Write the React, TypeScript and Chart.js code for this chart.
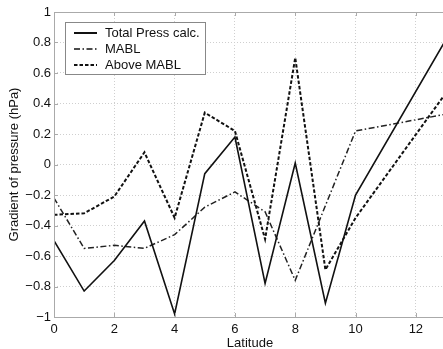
import React, { useEffect, useRef } from "react";
import { Chart, registerables } from "chart.js";

Chart.register(...registerables);

const LAT = [0, 1, 2, 3, 4, 5, 6, 7, 8, 9, 10, 13];
const TOTAL = [-0.5, -0.83, -0.63, -0.37, -0.98, -0.06, 0.18, -0.78, 0.01, -0.91, -0.2, 0.82];
const MABL = [-0.22, -0.55, -0.53, -0.55, -0.46, -0.28, -0.18, -0.31, -0.76, null, 0.22, 0.33];
const ABOVE = [-0.33, -0.32, -0.21, 0.08, -0.35, 0.34, 0.22, -0.49, 0.7, -0.69, -0.35, 0.47];
const X_TICKS = [0, 2, 4, 6, 8, 10, 12];
const Y_TICKS = [-1, -0.8, -0.6, -0.4, -0.2, 0, 0.2, 0.4, 0.6, 0.8, 1];
const LEGEND = ["Total Press calc.", "MABL", "Above MABL"];
const X_TITLE = "Latitude";
const Y_TITLE = "Gradient of pressure (hPa)";

const FONT = "'Liberation Sans', Arial, Helvetica, sans-serif";
const DASH_MABL = [6, 2.5, 1.5, 2.5];
const DASH_ABOVE = [3.5, 2];

const fmt = (v: number) => {
  const r = Math.round(v * 10) / 10;
  const s = String(Math.abs(r));
  return r < 0 ? "\u2212" + s : s;
};

const toPts = (ys: (number | null)[]) => LAT.map((x, i) => ({ x, y: ys[i] }));

const framePlugin = {
  id: "frame",
  afterDatasetsDraw(chart: any) {
    const { ctx, chartArea: a, scales } = chart;
    ctx.save();
    ctx.strokeStyle = "#aaa";
    ctx.lineWidth = 1;
    ctx.strokeRect(a.left + 0.5, a.top + 0.5, a.right - a.left, a.bottom - a.top);
    ctx.beginPath();
    for (const v of X_TICKS) {
      const px = Math.round(scales.x.getPixelForValue(v)) + 0.5;
      ctx.moveTo(px, a.bottom);
      ctx.lineTo(px, a.bottom - 4);
      ctx.moveTo(px, a.top);
      ctx.lineTo(px, a.top + 4);
    }
    for (const v of Y_TICKS) {
      const py = Math.round(scales.y.getPixelForValue(v)) + 0.5;
      ctx.moveTo(a.left, py);
      ctx.lineTo(a.left + 4, py);
    }
    ctx.stroke();

    // titles
    ctx.fillStyle = "#111";
    ctx.font = `13px ${FONT}`;
    ctx.textAlign = "center";
    ctx.textBaseline = "middle";
    ctx.fillText(X_TITLE, (a.left + 446) / 2, 343);
    ctx.translate(14, (a.top + a.bottom) / 2);
    ctx.rotate(-Math.PI / 2);
    ctx.fillText(Y_TITLE, 0, 0);
    ctx.restore();

    // legend
    ctx.save();
    const bx = 65.5, by = 22.5, bw = 140, bh = 52;
    ctx.fillStyle = "#fff";
    ctx.fillRect(bx, by, bw, bh);
    ctx.strokeStyle = "#888";
    ctx.lineWidth = 1;
    ctx.strokeRect(bx, by, bw, bh);
    const rows = [33, 49, 65];
    const dashes = [[], DASH_MABL, DASH_ABOVE];
    const widths = [2, 1.6, 2];
    ctx.font = `13px ${FONT}`;
    ctx.textAlign = "left";
    ctx.textBaseline = "middle";
    LEGEND.forEach((t, i) => {
      ctx.strokeStyle = "#111";
      ctx.lineWidth = widths[i];
      ctx.setLineDash(dashes[i]);
      ctx.beginPath();
      ctx.moveTo(74, rows[i]);
      ctx.lineTo(97, rows[i]);
      ctx.stroke();
      ctx.setLineDash([]);
      ctx.fillStyle = "#111";
      ctx.fillText(t, 105, rows[i] + 0.5);
    });
    ctx.restore();
  },
};

export default function App() {
  const ref = useRef<HTMLCanvasElement>(null);
  useEffect(() => {
    if (!ref.current) return;
    const chart = new Chart(ref.current, {
      type: "line",
      data: {
        datasets: [
          {
            label: LEGEND[0],
            data: toPts(TOTAL),
            borderColor: "#111",
            borderWidth: 1.6,
            pointRadius: 0,
            tension: 0,
          },
          {
            label: LEGEND[1],
            data: toPts(MABL),
            borderColor: "#222",
            borderWidth: 1.5,
            borderDash: DASH_MABL,
            pointRadius: 0,
            spanGaps: true,
            tension: 0,
          },
          {
            label: LEGEND[2],
            data: toPts(ABOVE),
            borderColor: "#111",
            borderWidth: 2,
            borderDash: DASH_ABOVE,
            pointRadius: 0,
            tension: 0,
          },
        ],
      },
      options: {
        responsive: false,
        animation: false,
        layout: { padding: { top: 12, right: 0, bottom: 0, left: 0 } },
        plugins: { legend: { display: false }, tooltip: { enabled: false } },
        scales: {
          x: {
            type: "linear",
            min: 0,
            max: 12.9,
            afterBuildTicks: (s: any) => {
              s.ticks = X_TICKS.map((v) => ({ value: v }));
            },
            afterFit: (s: any) => {
              s.height = 32;
            },
            grid: { color: "#cfcfcf", lineWidth: 1, drawTicks: false, borderDash: [1, 2] } as any,
            border: { display: false, dash: [1, 2] },
            ticks: {
              padding: 5,
              color: "#111",
              font: { family: FONT, size: 13 },
              maxRotation: 0,
              autoSkip: false,
              callback: (v: any) => fmt(Number(v)),
            },
          },
          y: {
            type: "linear",
            min: -1,
            max: 1,
            afterBuildTicks: (s: any) => {
              s.ticks = Y_TICKS.map((v) => ({ value: v }));
            },
            afterFit: (s: any) => {
              s.width = 54;
            },
            grid: { color: "#cfcfcf", lineWidth: 1, drawTicks: false, borderDash: [1, 2] } as any,
            border: { display: false, dash: [1, 2] },
            ticks: {
              padding: 3,
              color: "#111",
              font: { family: FONT, size: 13 },
              autoSkip: false,
              callback: (v: any) => fmt(Number(v)),
            },
          },
        },
      },
      plugins: [framePlugin],
    } as any);
    return () => chart.destroy();
  }, []);
  return (
    <div style={{ position: "fixed", left: 0, top: 0, width: 443, height: 349, background: "#fff" }}>
      <canvas ref={ref} width={443} height={349} style={{ display: "block", width: 443, height: 349 }} />
    </div>
  );
}
